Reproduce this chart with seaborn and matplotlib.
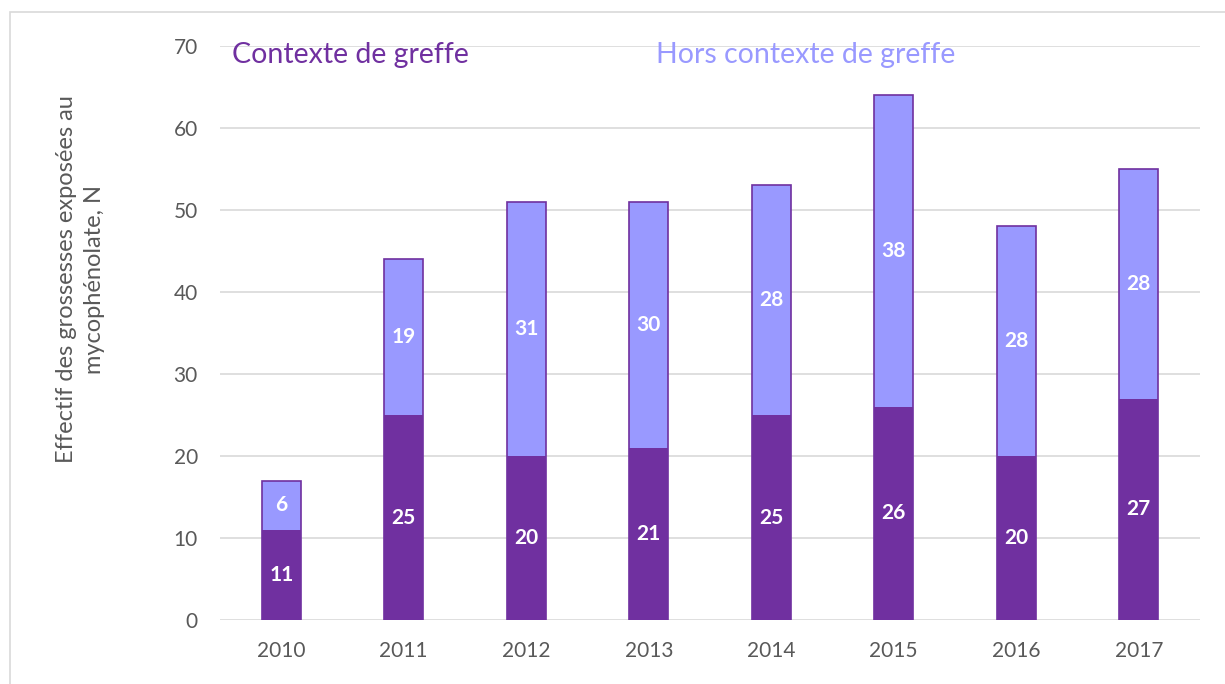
import numpy as np
import pandas as pd
import seaborn as sns
import matplotlib.pyplot as plt
from matplotlib.patches import Rectangle

years = ["2010", "2011", "2012", "2013", "2014", "2015", "2016", "2017"]
greffe = [11, 25, 20, 21, 25, 26, 20, 27]
hors_greffe = [6, 19, 31, 30, 28, 38, 28, 28]

purple = "#7030A0"
lilac = "#9999FF"
grey_txt = "#595959"

sns.set_theme(style="white")
plt.rcParams['font.family'] = ['Lato', 'DejaVu Sans']

fig = plt.figure(figsize=(12.25, 6.84), dpi=100)
ax = fig.add_axes([220 / 1225, 1 - 620 / 684, 980 / 1225, 574 / 684])

df = pd.DataFrame({"year": years, "greffe": greffe, "hors": hors_greffe})
df["total"] = df["greffe"] + df["hors"]

# top part drawn as total bar, bottom part drawn over it
sns.barplot(data=df, x="year", y="total", color=lilac, edgecolor=purple,
            linewidth=1.2, width=0.32, saturation=1, ax=ax)
sns.barplot(data=df, x="year", y="greffe", color=purple, edgecolor=purple,
            linewidth=0, width=0.32, saturation=1, ax=ax)

for i, (g, h) in enumerate(zip(greffe, hors_greffe)):
    ax.text(i, g / 2, str(g), ha="center", va="center", color="white",
            fontsize=15, fontweight="bold")
    ax.text(i, g + h / 2, str(h), ha="center", va="center", color="white",
            fontsize=15, fontweight="bold")

ax.set_ylim(0, 70)
ax.set_xlim(-0.5, 7.5)
ax.set_yticks(range(0, 71, 10))
ax.yaxis.grid(True, color="#D9D9D9", linewidth=1.2)
ax.set_axisbelow(True)
for s in ax.spines.values():
    s.set_visible(False)
ax.tick_params(axis="both", length=0, labelsize=15, labelcolor=grey_txt)
ax.tick_params(axis="x", pad=15)
ax.tick_params(axis="y", pad=16)
ax.set_xlabel("")
ax.set_ylabel("Effectif des grossesses exposées au\nmycophénolate, N",
              fontsize=17, color=grey_txt, linespacing=1.45)
ax.yaxis.set_label_coords(-0.117, 0.594)

fig.text(232 / 1225, 1 - 55 / 684, "Contexte de greffe", color=purple,
         fontsize=20.5, va="center", ha="left")
fig.text(656 / 1225, 1 - 55 / 684, "Hors contexte de greffe", color=lilac,
         fontsize=20.5, va="center", ha="left")

fig.patches.append(Rectangle((10 / 1225, -0.1), 1.2, 1.1 - 12 / 684,
                             transform=fig.transFigure, fill=False,
                             edgecolor="#D9D9D9", linewidth=1.2))

fig.savefig("out.png", dpi=100)
